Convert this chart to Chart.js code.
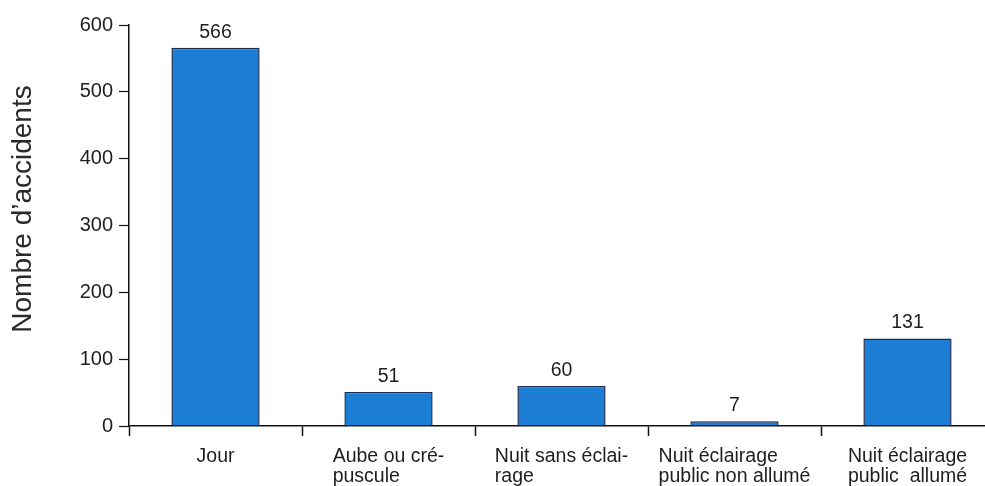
<!DOCTYPE html>
<html>
<head>
<meta charset="utf-8">
<script src="https://cdn.jsdelivr.net/npm/chart.js@4/dist/chart.umd.min.js"></script>
<style>
  html, body { margin: 0; padding: 0; background: #fff; overflow: hidden; }
  #wrap { width: 995px; height: 486px; position: relative; }
</style>
</head>
<body>
<div id="wrap"><canvas id="c"></canvas></div>
<script>
const categories = [
  ["Jour"],
  ["Aube ou cré-", "puscule"],
  ["Nuit sans éclai-", "rage"],
  ["Nuit éclairage", "public non allumé"],
  ["Nuit éclairage", "public  allumé"]
];
const accidents = [566, 51, 60, 7, 131];
const yTicks = [0, 100, 200, 300, 400, 500, 600];
const yTitle = "Nombre d\u2019accidents";

const FONT = "'Liberation Sans', Arial, sans-serif";
const TXT = "#1e1e1e";

const valueLabels = {
  id: 'valueLabels',
  afterDatasetsDraw(chart) {
    const ctx = chart.ctx;
    const meta = chart.getDatasetMeta(0);
    ctx.save();
    ctx.font = "19.5px " + FONT;
    ctx.fillStyle = TXT;
    ctx.textAlign = 'center';
    ctx.textBaseline = 'alphabetic';
    meta.data.forEach((bar, i) => {
      ctx.fillText(String(accidents[i]), bar.x, bar.y - 10);
    });
    ctx.restore();
  }
};

const xLabels = {
  id: 'xLabels',
  afterDraw(chart) {
    const ctx = chart.ctx;
    const xs = chart.scales.x;
    ctx.save();
    ctx.font = "19.5px " + FONT;
    ctx.fillStyle = TXT;
    ctx.textAlign = 'left';
    ctx.textBaseline = 'alphabetic';
    categories.forEach((lines, i) => {
      const cx = xs.getPixelForValue(i);
      const w = Math.max(...lines.map(l => ctx.measureText(l).width));
      const left = cx - w / 2;
      lines.forEach((l, j) => {
        ctx.fillText(l, left, xs.top + 36 + j * 20);
      });
    });
    ctx.restore();
  }
};

const yTitlePlugin = {
  id: 'yTitlePlugin',
  afterDraw(chart) {
    const ctx = chart.ctx;
    ctx.save();
    ctx.translate(23, 209);
    ctx.rotate(-Math.PI / 2);
    ctx.font = "28px " + FONT;
    ctx.fillStyle = "#2a2a2a";
    ctx.textAlign = 'center';
    ctx.textBaseline = 'middle';
    ctx.fillText(yTitle, 0, 0);
    ctx.restore();
  }
};

new Chart(document.getElementById('c'), {
  type: 'bar',
  data: {
    labels: categories,
    datasets: [{
      data: accidents,
      backgroundColor: '#1b7dd3',
      borderColor: '#1a2c50',
      borderWidth: 1.5,
      borderSkipped: 'bottom',
      barPercentage: 0.51,
      categoryPercentage: 1.0
    }]
  },
  options: {
    responsive: true,
    maintainAspectRatio: false,
    animation: false,
    layout: { padding: { top: 25, right: 1, bottom: 0, left: 0 } },
    plugins: { legend: { display: false }, tooltip: { enabled: false } },
    scales: {
      x: {
        offset: true,
        grid: {
          offset: true,
          display: true,
          drawOnChartArea: false,
          drawTicks: true,
          tickLength: 10,
          tickWidth: 1.5,
          tickColor: '#111'
        },
        border: { display: true, color: '#111', width: 1.5 },
        ticks: { display: false },
        afterFit(scale) { scale.height = 60; }
      },
      y: {
        min: 0,
        max: 600,
        afterBuildTicks(scale) { scale.ticks = yTicks.map(v => ({ value: v })); },
        grid: {
          display: true,
          drawOnChartArea: false,
          drawTicks: true,
          tickLength: 10,
          tickWidth: 1.2,
          tickColor: '#111'
        },
        border: { display: true, color: '#111', width: 1.5 },
        ticks: {
          font: { family: FONT, size: 20 },
          color: TXT,
          padding: 6
        },
        afterFit(scale) { scale.width = 129; }
      }
    }
  },
  plugins: [valueLabels, xLabels, yTitlePlugin]
});
</script>
</body>
</html>
